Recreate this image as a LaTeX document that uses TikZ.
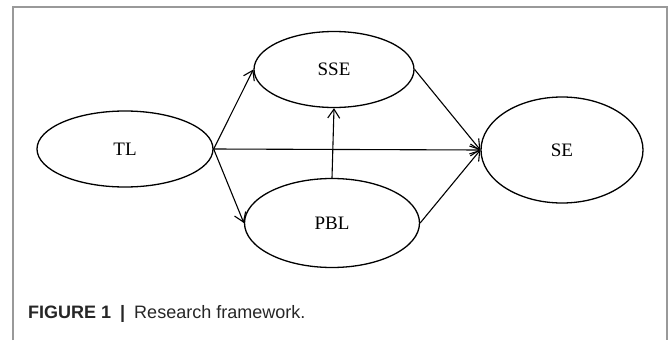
\documentclass[tikz,border=0pt]{standalone}
\usepackage{fontspec}
\setmainfont{Liberation Serif}
\newfontfamily\capfont{Liberation Sans}
\usetikzlibrary{shapes.geometric,arrows.meta}

\tikzset{
  construct/.style={draw, ellipse, line width=1.3pt, inner sep=0pt,
    font=\fontsize{19}{21}\selectfont},
  path/.style={line width=1.1pt, -{Straight Barb[length=9pt,width=12pt,line width=1.1pt]}}
}

\begin{document}
\begin{tikzpicture}[x=1pt, y=-1pt]
    \useasboundingbox (0,0) rectangle (669,340);
	\draw[black!40, line width=1.2pt] (13,340) -- (13,7) -- (667,7) -- (667,340);

    \node[construct, minimum width=176pt, minimum height=76pt] (TL) at (125,149) {TL};
    \node[construct, minimum width=160pt, minimum height=76pt] (SSE) at (334,69.5) {SSE};
    \node[construct, minimum width=175pt, minimum height=89pt] (PBL) at (332,223) {PBL};
    \node[construct, minimum width=162pt, minimum height=106pt] (SE) at (562,150) {SE};

    \draw[path] (TL.east) -- (SSE.west);
    \draw[path] (TL.east) -- (PBL.west);
    \draw[path] (TL.east) -- (SE.west);
    \draw[path] (PBL.north) -- (SSE.south);
    \draw[path] (SSE.east) -- (SE.west);
    \draw[path] (PBL.east) -- (SE.west);

	\node[anchor=base west, inner sep=0pt, text=black!85, font=\capfont\fontsize{18}{20}\selectfont]
	    (caption) at (28,318) {\textbf{FIGURE 1}\enspace\textbf{|}\enspace Research framework.};
\end{tikzpicture}
\end{document}
